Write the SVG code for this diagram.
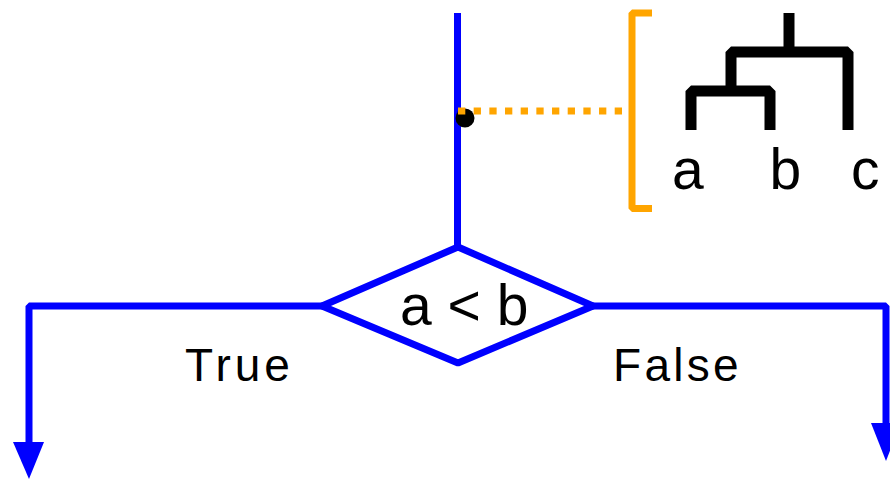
<svg xmlns="http://www.w3.org/2000/svg" width="890" height="479" viewBox="0 0 890 479">
  <style>
    .flow { fill: none; stroke: #0000FF; stroke-width: 7; stroke-linejoin: bevel; }
    .head { fill: #0000FF; stroke: none; }
    .tree { fill: none; stroke: #000000; stroke-width: 11; stroke-linejoin: bevel; }
    .orange { fill: none; stroke: #FFA500; stroke-width: 7; stroke-linejoin: bevel; }
    .lbl { font-family: "Liberation Sans", Arial, sans-serif; fill: #000000; }
  </style>
  <rect x="0" y="0" width="890" height="479" fill="#FFFFFF"/>
  <g id="connectors">
    <path class="flow" d="M457.5,13 V247"/>
    <path class="flow" d="M322,306 H29 V443"/>
    <polygon class="head" points="13,442 44,442 29,479"/>
    <path class="flow" d="M593,306 H886 V424"/>
    <polygon class="head" points="871,423 901,423 886,461"/>
  </g>
  <g id="marker-dot">
    <circle cx="465" cy="118" r="9.5" fill="#000000"/>
  </g>
  <g id="pointer">
    <path class="orange" d="M458,111 H622" stroke-dasharray="7.3 8.37"/>
  </g>
  <g id="bracket">
    <path class="orange" d="M652,13 H632 V208.5 H652"/>
  </g>
  <g id="tree">
    <path class="tree" d="M789,13 V52"/>
    <path class="tree" d="M731,91 V52 H848 V130"/>
    <path class="tree" d="M691,130 V91 H770 V130"/>
    <text class="lbl" x="672" y="189" font-size="57">a</text>
    <text class="lbl" x="769.5" y="189" font-size="57">b</text>
    <text class="lbl" x="851" y="189" font-size="57">c</text>
  </g>
  <g id="decision">
    <polygon class="flow" points="458,247 593,306 458,363 322,306"/>
    <text class="lbl" x="400" y="325" font-size="57">a &lt; b</text>
  </g>
  <g id="label-true">
    <text class="lbl" x="185" y="381" font-size="46" letter-spacing="4">True</text>
  </g>
  <g id="label-false">
    <text class="lbl" x="613" y="381" font-size="46" letter-spacing="3.3">False</text>
  </g>
</svg>
